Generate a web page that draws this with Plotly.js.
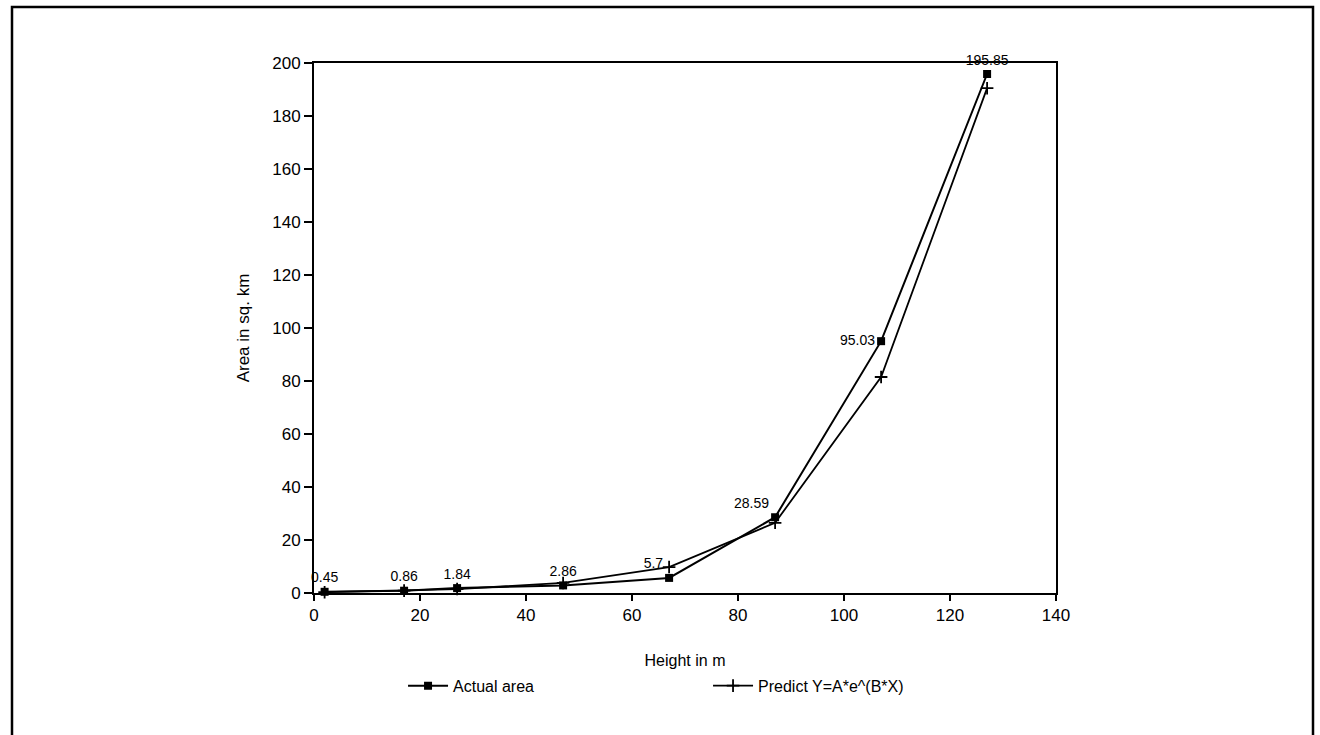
<!DOCTYPE html>
<html>
<head>
<meta charset="utf-8">
<script src="https://cdn.plot.ly/plotly-3.0.1.min.js"></script>
<style>html,body{margin:0;padding:0;background:#fff;}#chart{width:1320px;height:735px;}</style>
</head>
<body>
<div id="chart"></div>
<script>
const heights = [2, 17, 27, 47, 67, 87, 107, 127];
const actualArea = [0.45, 0.86, 1.84, 2.86, 5.7, 28.59, 95.03, 195.85];
const predictArea = [0.3, 0.9, 1.5, 3.8, 9.8, 26.5, 81.5, 190.5];
const actualLabels = ['0.45', '0.86', '1.84', '2.86', '5.7', '28.59', '95.03', '195.85'];
const labelPositions = ['top center', 'top center', 'top center', 'top center', 'top left', 'top left', 'middle left', 'top center'];
const xTicks = [0, 20, 40, 60, 80, 100, 120, 140];
const yTicks = [0, 20, 40, 60, 80, 100, 120, 140, 160, 180, 200];

const font = 'Liberation Sans, Arial, sans-serif';

const traces = [
  {
    x: heights, y: actualArea, name: 'Actual area', mode: 'lines+markers+text',
    text: actualLabels, textposition: labelPositions,
    textfont: {family: font, size: 14, color: '#000'},
    line: {color: '#000', width: 2},
    marker: {symbol: 'square', size: 8, color: '#000'},
    cliponaxis: false
  },
  {
    x: heights, y: predictArea, name: 'Predict Y=A*e^(B*X)', mode: 'lines+markers',
    line: {color: '#000', width: 1.8},
    marker: {symbol: 'cross-thin-open', size: 9, color: '#000', line: {color: '#000', width: 1.8}},
    cliponaxis: false
  }
];

const layout = {
  width: 1320, height: 735,
  margin: {l: 314, r: 264, t: 63, b: 142},
  paper_bgcolor: '#fff', plot_bgcolor: '#fff',
  font: {family: font, size: 16, color: '#000'},
  showlegend: true,
  legend: {
    orientation: 'h', x: 0.12, xanchor: 'left', y: -0.175, yanchor: 'middle',
    font: {family: font, size: 16, color: '#000'},
    entrywidth: 250, itemwidth: 40, bgcolor: 'rgba(0,0,0,0)'
  },
  xaxis: {
    range: [0, 140], tickvals: xTicks, ticktext: xTicks.map(String),
    showgrid: false, zeroline: false, showline: true, linecolor: '#000', linewidth: 2,
    mirror: true, ticks: 'outside', ticklen: 6, tickwidth: 2, tickcolor: '#000',
    tickfont: {family: font, size: 17, color: '#000'},
    title: {text: 'Height in m', font: {family: font, size: 16, color: '#000'}, standoff: 30}
  },
  yaxis: {
    range: [0, 200], tickvals: yTicks, ticktext: yTicks.map(String),
    showgrid: false, zeroline: false, showline: true, linecolor: '#000', linewidth: 2,
    mirror: true, ticks: 'outside', ticklen: 8, tickwidth: 2, tickcolor: '#000',
    tickfont: {family: font, size: 17, color: '#000'},
    title: {text: 'Area in sq. km', font: {family: 'Liberation Sans Narrow, Arial Narrow, sans-serif', size: 17, color: '#000'}, standoff: 18}
  },
  shapes: [
    {type: 'rect', xref: 'paper', yref: 'paper', x0: -302/742, x1: 999/742, y0: -200/530, y1: 56/530 + 1,
     line: {color: '#000', width: 2.5}, fillcolor: 'rgba(0,0,0,0)', layer: 'below'}
  ]
};

Plotly.newPlot('chart', traces, layout, {displayModeBar: false, staticPlot: true});
</script>
</body>
</html>
